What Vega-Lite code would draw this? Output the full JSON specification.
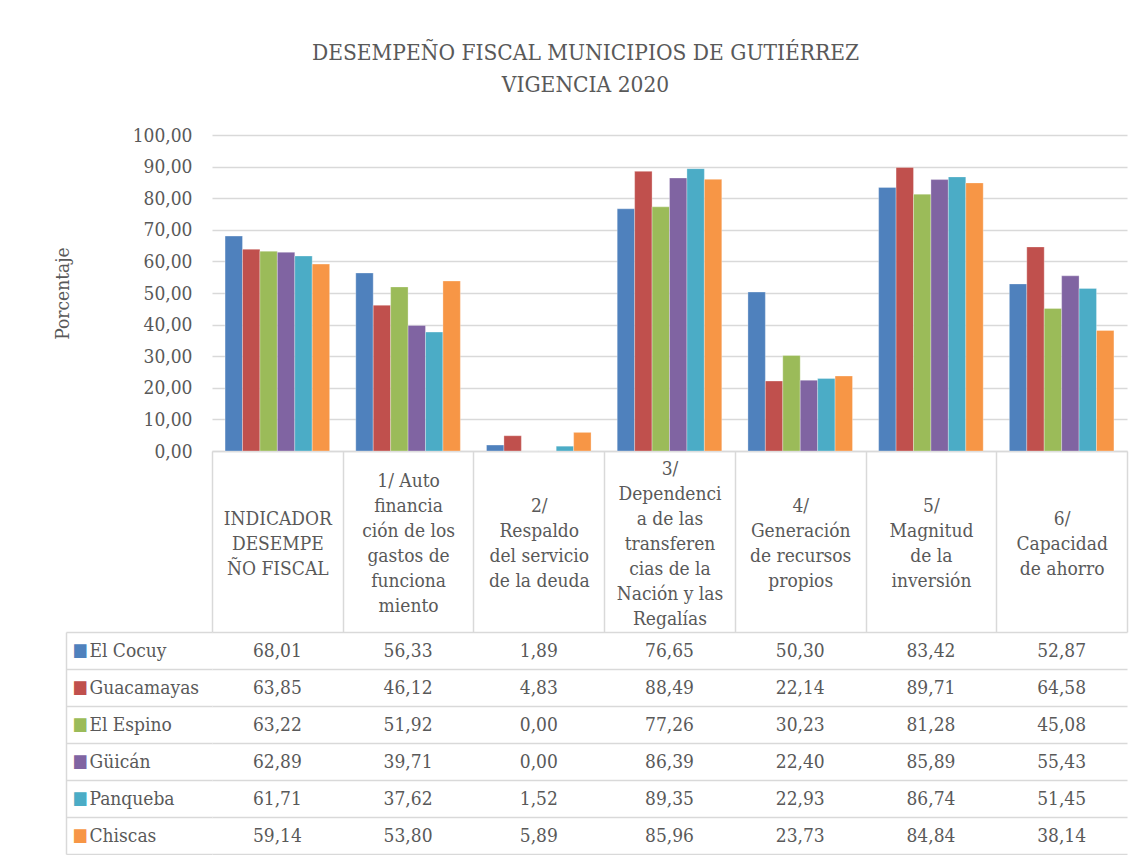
{
  "$schema": "https://vega.github.io/schema/vega-lite/v6.json",
  "config": {
    "locale": {"number": {"decimal": ",", "thousands": ".", "grouping": [3], "currency": ["", ""]}},
    "font": "DejaVu Serif Condensed, DejaVu Serif",
    "view": {"stroke": null}
  },
  "padding": {"left": 53, "top": 41, "right": 20, "bottom": 0},
  "bounds": "flush",
  "spacing": 181,
  "title": {
    "text": ["DESEMPEÑO FISCAL MUNICIPIOS DE GUTIÉRREZ", "VIGENCIA 2020"],
    "font": "DejaVu Serif Condensed, DejaVu Serif",
    "fontSize": 22.5, "fontWeight": "normal", "color": "#595959",
    "lineHeight": 32, "anchor": "middle", "offset": 30, "dx": -5
  },
  "data": {"values": [
    {"indicador": "INDICADOR\nDESEMPE\nÑO FISCAL", "municipio": "El Cocuy", "valor": 68.01},
    {"indicador": "INDICADOR\nDESEMPE\nÑO FISCAL", "municipio": "Guacamayas", "valor": 63.85},
    {"indicador": "INDICADOR\nDESEMPE\nÑO FISCAL", "municipio": "El Espino", "valor": 63.22},
    {"indicador": "INDICADOR\nDESEMPE\nÑO FISCAL", "municipio": "Güicán", "valor": 62.89},
    {"indicador": "INDICADOR\nDESEMPE\nÑO FISCAL", "municipio": "Panqueba", "valor": 61.71},
    {"indicador": "INDICADOR\nDESEMPE\nÑO FISCAL", "municipio": "Chiscas", "valor": 59.14},
    {"indicador": "1/ Auto\nfinancia\nción de los\ngastos de\nfunciona\nmiento", "municipio": "El Cocuy", "valor": 56.33},
    {"indicador": "1/ Auto\nfinancia\nción de los\ngastos de\nfunciona\nmiento", "municipio": "Guacamayas", "valor": 46.12},
    {"indicador": "1/ Auto\nfinancia\nción de los\ngastos de\nfunciona\nmiento", "municipio": "El Espino", "valor": 51.92},
    {"indicador": "1/ Auto\nfinancia\nción de los\ngastos de\nfunciona\nmiento", "municipio": "Güicán", "valor": 39.71},
    {"indicador": "1/ Auto\nfinancia\nción de los\ngastos de\nfunciona\nmiento", "municipio": "Panqueba", "valor": 37.62},
    {"indicador": "1/ Auto\nfinancia\nción de los\ngastos de\nfunciona\nmiento", "municipio": "Chiscas", "valor": 53.80},
    {"indicador": "2/\nRespaldo\ndel servicio\nde la deuda", "municipio": "El Cocuy", "valor": 1.89},
    {"indicador": "2/\nRespaldo\ndel servicio\nde la deuda", "municipio": "Guacamayas", "valor": 4.83},
    {"indicador": "2/\nRespaldo\ndel servicio\nde la deuda", "municipio": "El Espino", "valor": 0.00},
    {"indicador": "2/\nRespaldo\ndel servicio\nde la deuda", "municipio": "Güicán", "valor": 0.00},
    {"indicador": "2/\nRespaldo\ndel servicio\nde la deuda", "municipio": "Panqueba", "valor": 1.52},
    {"indicador": "2/\nRespaldo\ndel servicio\nde la deuda", "municipio": "Chiscas", "valor": 5.89},
    {"indicador": "3/\nDependenci\na de las\ntransferen\ncias de la\nNación y las\nRegalías", "municipio": "El Cocuy", "valor": 76.65},
    {"indicador": "3/\nDependenci\na de las\ntransferen\ncias de la\nNación y las\nRegalías", "municipio": "Guacamayas", "valor": 88.49},
    {"indicador": "3/\nDependenci\na de las\ntransferen\ncias de la\nNación y las\nRegalías", "municipio": "El Espino", "valor": 77.26},
    {"indicador": "3/\nDependenci\na de las\ntransferen\ncias de la\nNación y las\nRegalías", "municipio": "Güicán", "valor": 86.39},
    {"indicador": "3/\nDependenci\na de las\ntransferen\ncias de la\nNación y las\nRegalías", "municipio": "Panqueba", "valor": 89.35},
    {"indicador": "3/\nDependenci\na de las\ntransferen\ncias de la\nNación y las\nRegalías", "municipio": "Chiscas", "valor": 85.96},
    {"indicador": "4/\nGeneración\nde recursos\npropios", "municipio": "El Cocuy", "valor": 50.30},
    {"indicador": "4/\nGeneración\nde recursos\npropios", "municipio": "Guacamayas", "valor": 22.14},
    {"indicador": "4/\nGeneración\nde recursos\npropios", "municipio": "El Espino", "valor": 30.23},
    {"indicador": "4/\nGeneración\nde recursos\npropios", "municipio": "Güicán", "valor": 22.40},
    {"indicador": "4/\nGeneración\nde recursos\npropios", "municipio": "Panqueba", "valor": 22.93},
    {"indicador": "4/\nGeneración\nde recursos\npropios", "municipio": "Chiscas", "valor": 23.73},
    {"indicador": "5/\nMagnitud\nde la\ninversión", "municipio": "El Cocuy", "valor": 83.42},
    {"indicador": "5/\nMagnitud\nde la\ninversión", "municipio": "Guacamayas", "valor": 89.71},
    {"indicador": "5/\nMagnitud\nde la\ninversión", "municipio": "El Espino", "valor": 81.28},
    {"indicador": "5/\nMagnitud\nde la\ninversión", "municipio": "Güicán", "valor": 85.89},
    {"indicador": "5/\nMagnitud\nde la\ninversión", "municipio": "Panqueba", "valor": 86.74},
    {"indicador": "5/\nMagnitud\nde la\ninversión", "municipio": "Chiscas", "valor": 84.84},
    {"indicador": "6/\nCapacidad\nde ahorro", "municipio": "El Cocuy", "valor": 52.87},
    {"indicador": "6/\nCapacidad\nde ahorro", "municipio": "Guacamayas", "valor": 64.58},
    {"indicador": "6/\nCapacidad\nde ahorro", "municipio": "El Espino", "valor": 45.08},
    {"indicador": "6/\nCapacidad\nde ahorro", "municipio": "Güicán", "valor": 55.43},
    {"indicador": "6/\nCapacidad\nde ahorro", "municipio": "Panqueba", "valor": 51.45},
    {"indicador": "6/\nCapacidad\nde ahorro", "municipio": "Chiscas", "valor": 38.14}
  ]},
  "vconcat": [
    {
      "width": 915,
      "height": 316,
      "mark": {"type": "bar", "stroke": "#ffffff", "strokeWidth": 0.6, "strokeOpacity": 0.5},
      "encoding": {
        "x": {
          "field": "indicador", "type": "nominal", "sort": null, "title": null,
          "scale": {"paddingInner": 0, "paddingOuter": 0},
          "axis": {
            "labelExpr": "datum.value ? split(substring('\u200b\\n\u200b\\n\u200b\\n\u200b\\n\u200b\\n\u200b\\n', 0, 2 * (7 - length(split(datum.value, '\\n')))) + join(split(datum.value, '\\n'), '\\n\u200b\\n'), '\\n') : ''",
            "labelAngle": 0, "labelAlign": "center", "labelBaseline": "middle",
            "labelFontSize": 19, "labelColor": "#595959", "labelLineHeight": 12.5,
            "labelPadding": -164, "labelLimit": 0, "labelOverlap": false,
            "tickBand": "extent", "ticks": true, "tickSize": 181, "tickColor": "#d9d9d9", "tickWidth": 1.5,
            "domain": true, "domainColor": "#d9d9d9", "domainWidth": 1.5, "grid": false
          }
        },
        "xOffset": {
          "field": "municipio", "type": "nominal",
          "sort": ["El Cocuy", "Guacamayas", "El Espino", "Güicán", "Panqueba", "Chiscas"],
          "scale": {"paddingInner": 0, "paddingOuter": 0.75}
        },
        "y": {
          "field": "valor", "type": "quantitative",
          "scale": {"domain": [0, 100], "nice": false},
          "axis": {
            "values": [0, 10, 20, 30, 40, 50, 60, 70, 80, 90, 100],
            "format": ".2f", "title": "Porcentaje", "titleFontSize": 19, "titleFontWeight": "normal",
            "titleColor": "#595959", "titlePadding": 60,
            "labelFontSize": 19, "labelColor": "#595959", "labelPadding": 20,
            "ticks": false, "domain": false, "gridColor": "#d9d9d9", "gridWidth": 1.5
          }
        },
        "color": {
          "field": "municipio", "type": "nominal",
          "sort": ["El Cocuy", "Guacamayas", "El Espino", "Güicán", "Panqueba", "Chiscas"],
          "scale": {"range": ["#4F81BD", "#C0504D", "#9BBB59", "#8064A2", "#4BACC6", "#F79646"]},
          "legend": null
        }
      }
    },
    {
      "width": 915,
      "height": 222,
      "layer": [
        {
          "mark": {"type": "text", "fontSize": 19, "color": "#595959", "baseline": "middle"},
          "encoding": {
            "x": {
              "field": "indicador", "type": "nominal", "sort": null, "title": null,
              "scale": {"paddingInner": 0, "paddingOuter": 0},
              "axis": {"labels": false, "ticks": false, "domain": false, "grid": true, "tickBand": "extent",
                       "gridColor": "#d9d9d9", "gridWidth": 1.5}
            },
            "y": {
              "field": "municipio", "type": "nominal",
              "sort": ["El Cocuy", "Guacamayas", "El Espino", "Güicán", "Panqueba", "Chiscas"],
              "scale": {"paddingInner": 0, "paddingOuter": 0},
              "axis": {
                "title": null, "tickBand": "extent", "grid": true, "gridColor": "#d9d9d9", "gridWidth": 1.5,
                "ticks": true, "tickSize": 146, "tickColor": "#d9d9d9", "tickWidth": 1.5, "domain": false,
                "labelAlign": "left", "labelPadding": -23, "labelFontSize": 19, "labelColor": "#595959",
                "labelBaseline": "middle"
              }
            },
            "text": {"field": "valor", "type": "quantitative", "format": ".2f"}
          }
        },
        {
          "mark": {"type": "point", "opacity": 0},
          "encoding": {
            "x": {"field": "indicador", "type": "nominal", "sort": null, "axis": null},
            "y": {
              "field": "municipio", "type": "nominal",
              "sort": ["El Cocuy", "Guacamayas", "El Espino", "Güicán", "Panqueba", "Chiscas"],
              "scale": {"paddingInner": 0, "paddingOuter": 0},
              "axis": {
                "orient": "left", "offset": 146, "title": null, "ticks": false, "grid": false,
                "domain": true, "domainColor": "#d9d9d9", "domainWidth": 1.5,
                "labelExpr": "'■'", "labelAlign": "left", "labelPadding": -6, "labelFontSize": 18,
                "labelBaseline": "middle",
                "labelColor": {
                  "condition": [
                    {"test": "datum.value === 'El Cocuy'", "value": "#4F81BD"},
                    {"test": "datum.value === 'Guacamayas'", "value": "#C0504D"},
                    {"test": "datum.value === 'El Espino'", "value": "#9BBB59"},
                    {"test": "datum.value === 'Güicán'", "value": "#8064A2"},
                    {"test": "datum.value === 'Panqueba'", "value": "#4BACC6"}
                  ],
                  "value": "#F79646"
                }
              }
            }
          }
        }
      ],
      "resolve": {"scale": {"y": "independent"}, "axis": {"y": "independent"}}
    }
  ],
  "resolve": {"scale": {"x": "independent", "y": "independent"}}
}
